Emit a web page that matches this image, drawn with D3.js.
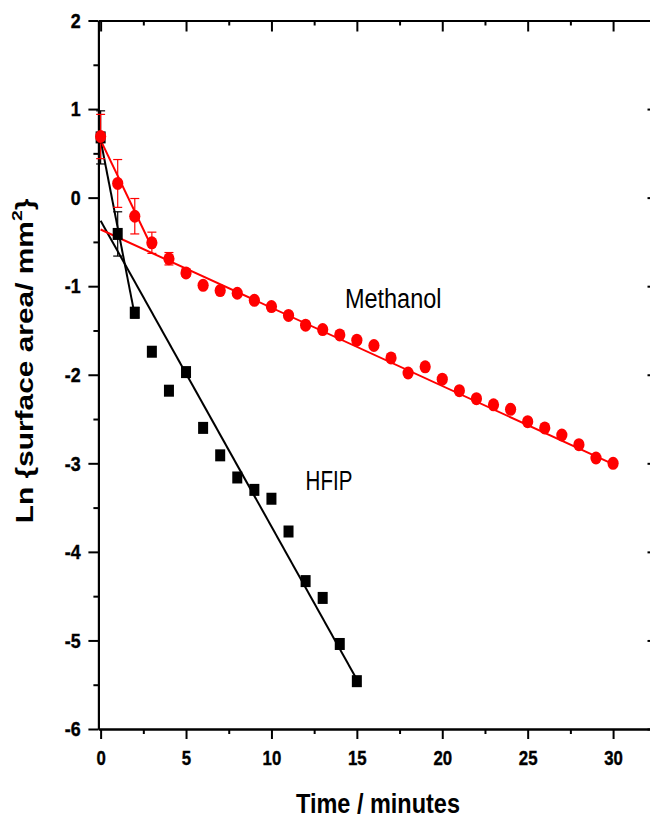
<!DOCTYPE html>
<html>
<head>
<meta charset="utf-8">
<script src="https://cdn.jsdelivr.net/npm/d3@7"></script>
<style>
  body { margin: 0; background: #fff; }
  svg { display: block; }
</style>
</head>
<body>
<div id="chart"></div>
<script>
// data
const methanolTime = [0, 1, 2, 3, 4, 5, 6, 7, 8, 9, 10, 11, 12, 13, 14, 15, 16, 17, 18, 19, 20, 21, 22, 23, 24, 25, 26, 27, 28, 29, 30];
const methanolLn = [0.69, 0.16, -0.21, -0.51, -0.69, -0.85, -0.99, -1.05, -1.08, -1.16, -1.23, -1.33, -1.44, -1.49, -1.55, -1.61, -1.67, -1.81, -1.98, -1.91, -2.05, -2.18, -2.27, -2.34, -2.39, -2.53, -2.60, -2.68, -2.79, -2.94, -3.00];
const methanolErr = [0.25, 0.27, 0.20, 0.12, 0.07, 0.04, 0, 0, 0, 0, 0, 0, 0, 0, 0, 0, 0, 0, 0, 0, 0, 0, 0, 0, 0, 0, 0, 0, 0, 0, 0];

const hfipTime = [0, 1, 2, 3, 4, 5, 6, 7, 8, 9, 10, 11, 12, 13, 14, 15];
const hfipLn = [0.68, -0.41, -1.30, -1.74, -2.18, -1.97, -2.60, -2.91, -3.16, -3.30, -3.40, -3.77, -4.33, -4.52, -5.04, -5.46];
const hfipErr = [0.30, 0.25, 0.06, 0, 0, 0, 0, 0, 0, 0, 0, 0, 0, 0, 0, 0];

// fitted lines (end points)
const methanolFitFast = [[0, 0.65], [3, -0.56]];
const methanolFitSlow = [[0, -0.36], [30, -3.01]];
const hfipFitFast = [[0, 0.65], [2, -1.33]];
const hfipFitSlow = [[0, -0.26], [15, -5.44]];

const xTicks = [0, 5, 10, 15, 20, 25, 30];
const xMinor = [2.5, 7.5, 12.5, 17.5, 22.5, 27.5, 32.5];
const yTicks = [-6, -5, -4, -3, -2, -1, 0, 1, 2];
const yMinor = [-5.5, -4.5, -3.5, -2.5, -1.5, -0.5, 0.5, 1.5];

const xLabel = "Time / minutes";
const yLabel = "Ln {surface area/ mm";
const labels = [
  { text: "Methanol", t: 14.3, v: -1.25, sx: 0.87 },
  { text: "HFIP", t: 12.0, v: -3.30, sx: 0.76 }
];

const width = 650;
const height = 819;
const font = "Arial, 'Liberation Sans', sans-serif";

const svg = d3.select('#chart')
  .append('svg')
  .attr('width', width)
  .attr('height', height);

const x = d3.scaleLinear().domain([-0.13, 32.6]).range([98.4, 657.5]);
const y = d3.scaleLinear().domain([-6, 2]).range([729, 20.5]);

// axes
function styleAxis(g) {
  g.select('.domain').attr('stroke', '#000').attr('stroke-width', 2);
  g.selectAll('.tick line').attr('stroke', '#000').attr('stroke-width', 2);
}
function styleTickText(g, sx) {
  g.selectAll('text')
    .attr('font-family', font)
    .attr('font-weight', 'bold')
    .attr('font-size', 21)
    .attr('fill', '#000')
    .attr('stroke', '#000')
    .attr('stroke-width', 0.4)
    .attr('transform', `scale(${sx},1)`);
}

const gX = svg.append('g')
  .attr('transform', `translate(0, ${y(-6)})`)
  .call(d3.axisBottom(x).tickValues(xTicks).tickSizeInner(10).tickSizeOuter(0).tickPadding(11).tickFormat(d => String(d)))
  .call(styleAxis);
styleTickText(gX, 0.8);

svg.append('g')
  .attr('transform', `translate(0, ${y(-6)})`)
  .call(d3.axisBottom(x).tickValues(xMinor).tickSizeInner(5).tickSizeOuter(0).tickFormat(''))
  .call(styleAxis);

svg.append('g')
  .attr('transform', `translate(0, ${y(2)})`)
  .call(d3.axisTop(x).tickValues(xTicks).tickSizeInner(-11).tickSizeOuter(0).tickFormat(''))
  .call(styleAxis);
svg.append('g')
  .attr('transform', `translate(0, ${y(2)})`)
  .call(d3.axisTop(x).tickValues(xMinor).tickSizeInner(-5).tickSizeOuter(0).tickFormat(''))
  .call(styleAxis);

const gY = svg.append('g')
  .attr('transform', `translate(${x(-0.13)}, 0)`)
  .call(d3.axisLeft(y).tickValues(yTicks).tickSizeInner(10).tickSizeOuter(0).tickPadding(11).tickFormat(d => String(d)))
  .call(styleAxis);
styleTickText(gY, 0.85);

svg.append('g')
  .attr('transform', `translate(${x(-0.13)}, 0)`)
  .call(d3.axisLeft(y).tickValues(yMinor).tickSizeInner(5).tickSizeOuter(0).tickFormat(''))
  .call(styleAxis);

svg.append('g')
  .attr('transform', `translate(${x(32.6)}, 0)`)
  .call(d3.axisRight(y).tickValues(yTicks).tickSizeInner(-10).tickSizeOuter(0).tickFormat(''))
  .call(styleAxis);

// axis titles
svg.append('text')
  .attr('transform', 'translate(378, 813) scale(0.87,1)')
  .attr('text-anchor', 'middle')
  .attr('font-family', font).attr('font-weight', 'bold').attr('font-size', 27)
  .text(xLabel);

const yt = svg.append('text')
  .attr('transform', 'translate(33, 361) rotate(-90) scale(1.3,1)')
  .attr('text-anchor', 'middle')
  .attr('font-family', font).attr('font-weight', 'bold').attr('font-size', 23)
  .text(yLabel);
yt.append('tspan').attr('font-size', 15).attr('dy', -11).text('2');
yt.append('tspan').attr('dy', 11).text('}');

// fit lines
const line = d3.line().x(d => x(d[0])).y(d => y(d[1]));

[hfipFitFast, hfipFitSlow].forEach(f => {
  svg.append('path').datum(f)
    .attr('fill', 'none').attr('stroke', '#000').attr('stroke-width', 2)
    .attr('d', line);
});
[methanolFitFast, methanolFitSlow].forEach(f => {
  svg.append('path').datum(f)
    .attr('fill', 'none').attr('stroke', '#ff0000').attr('stroke-width', 2)
    .attr('d', line);
});

// error bars
function errorBars(times, vals, errs, color) {
  const pts = times.map((t, i) => ({ t, v: vals[i], e: errs[i] })).filter(d => d.e > 0);
  const g = svg.append('g').attr('stroke', color).attr('stroke-width', 1.2);
  g.selectAll('line.v').data(pts).join('line')
    .attr('x1', d => x(d.t)).attr('x2', d => x(d.t))
    .attr('y1', d => y(d.v + d.e)).attr('y2', d => y(d.v - d.e));
  g.selectAll('line.top').data(pts).join('line')
    .attr('x1', d => x(d.t) - 4.5).attr('x2', d => x(d.t) + 4.5)
    .attr('y1', d => y(d.v + d.e)).attr('y2', d => y(d.v + d.e));
  g.selectAll('line.bot').data(pts).join('line')
    .attr('x1', d => x(d.t) - 4.5).attr('x2', d => x(d.t) + 4.5)
    .attr('y1', d => y(d.v - d.e)).attr('y2', d => y(d.v - d.e));
}
errorBars(hfipTime, hfipLn, hfipErr, '#000');
errorBars(methanolTime, methanolLn, methanolErr, '#ff0000');

// markers
svg.append('g').selectAll('rect')
  .data(hfipTime.map((t, i) => [t, hfipLn[i]]))
  .join('rect')
  .attr('x', d => x(d[0]) - 5)
  .attr('y', d => y(d[1]) - 6)
  .attr('width', 10)
  .attr('height', 12)
  .attr('fill', '#000');

svg.append('g').selectAll('ellipse')
  .data(methanolTime.map((t, i) => [t, methanolLn[i]]))
  .join('ellipse')
  .attr('cx', d => x(d[0]))
  .attr('cy', d => y(d[1]))
  .attr('rx', 5.6)
  .attr('ry', 6.5)
  .attr('fill', '#ff0000');

// series labels
svg.append('g').selectAll('text')
  .data(labels)
  .join('text')
  .attr('transform', d => `translate(${x(d.t)}, ${y(d.v)}) scale(${d.sx},1)`)
  .attr('font-family', font)
  .attr('font-size', 27)
  .attr('fill', '#000')
  .text(d => d.text);
</script>
</body>
</html>
